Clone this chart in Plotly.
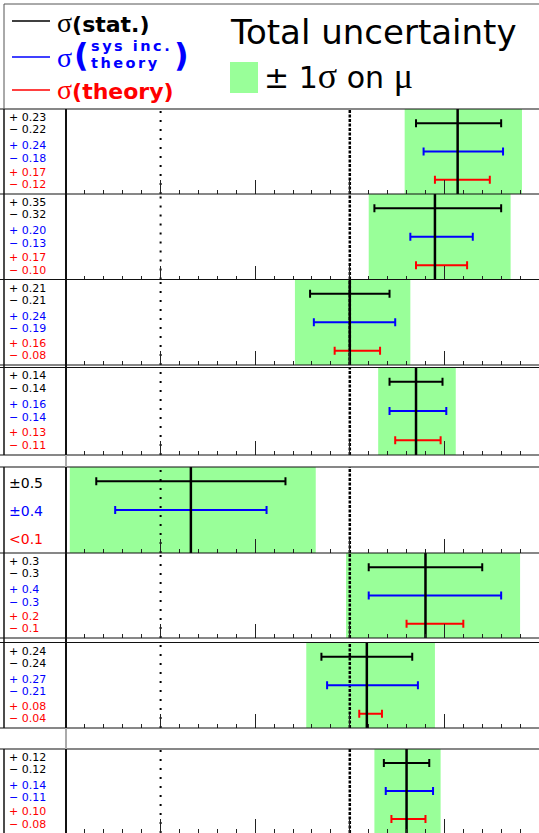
import plotly.graph_objects as go

# Signal strength per channel with its uncertainty breakdown
mu = [1.57, 1.45, 1.00, 1.35, 0.16, 1.40, 1.09, 1.30]
stat_up = [0.23, 0.35, 0.21, 0.14, 0.5, 0.3, 0.24, 0.12]
stat_dn = [0.22, 0.32, 0.21, 0.14, 0.5, 0.3, 0.24, 0.12]
sys_up = [0.24, 0.20, 0.24, 0.16, 0.4, 0.4, 0.27, 0.14]
sys_dn = [0.18, 0.13, 0.19, 0.14, 0.4, 0.3, 0.21, 0.11]
theo_up = [0.17, 0.17, 0.16, 0.13, None, 0.2, 0.08, 0.10]
theo_dn = [0.12, 0.10, 0.08, 0.11, None, 0.1, 0.04, 0.08]
theo_limit = [None, None, None, None, 0.1, None, None, None]
tot_up = [0.34, 0.40, 0.32, 0.21, 0.66, 0.50, 0.36, 0.18]
tot_dn = [0.28, 0.35, 0.29, 0.20, 0.64, 0.42, 0.32, 0.17]
label_decimals = [2, 2, 2, 2, 1, 1, 2, 2]

x_range = [-0.5, 2.0]
major_step = 0.5
minor_step = 0.1
reference_lines = [0.0, 1.0]

W, H = 539, 833
FONT = "DejaVu Sans, Liberation Sans, Arial, sans-serif"
SERIF = "Liberation Serif, DejaVu Serif, serif"
BLACK, BLUE, RED, GREEN = "#000000", "#0000ff", "#ff0000", "#99ff99"

# vertical extent of each panel in pixels (top, bottom)
panel_top = [109, 194, 279.5, 367, 467, 553, 642.5, 749]
panel_bot = [194, 279.5, 365, 455, 553, 638, 728, 833]
X0 = 66  # left edge of the plotting area


def py(v):
    return 1 - v / H


def px(v):
    return v / W


def greek(ch, size):
    return f"<span style='font-family:{SERIF};font-size:{size}px'>{ch}</span>"


fig = go.Figure()
layout = dict(
    width=W, height=H, margin=dict(l=0, r=0, t=0, b=0),
    paper_bgcolor="white", plot_bgcolor="rgba(0,0,0,0)",
    showlegend=False, hovermode=False,
    font=dict(family=FONT, color=BLACK),
)

annotations = []
shapes = []

row_y = [2.5, 1.5, 0.5]
label_y = [2.70, 2.28, 1.71, 1.27, 0.76, 0.32]
label_y_sym = [2.45, 1.48, 0.49]

for i in range(len(mu)):
    n = "" if i == 0 else str(i + 1)
    xa, ya = "x" + n, "y" + n
    layout["xaxis" + n] = dict(
        domain=[px(X0), 1], range=x_range, anchor=ya,
        showgrid=False, zeroline=False, showticklabels=False, showline=False,
        ticks="inside", tick0=0, dtick=major_step, ticklen=14, tickwidth=1,
        tickcolor="#222", fixedrange=True,
        minor=dict(ticks="inside", tick0=0, dtick=minor_step, ticklen=4,
                   tickwidth=1, tickcolor="#222"),
    )
    layout["yaxis" + n] = dict(
        domain=[py(panel_bot[i]), py(panel_top[i])], range=[0, 3],
        anchor=xa, visible=False, fixedrange=True,
    )

    # total uncertainty band
    fig.add_trace(go.Bar(
        x=[tot_up[i] + tot_dn[i]], base=[mu[i] - tot_dn[i]], y=[1.5], width=[3],
        orientation="h", marker=dict(color=GREEN, line=dict(width=0)),
        xaxis=xa, yaxis=ya,
    ))

    # reference lines at mu = 0 and mu = 1
    fig.add_trace(go.Scatter(
        x=[reference_lines[0]] * 2, y=[0, 3], mode="lines",
        line=dict(color=BLACK, width=2, dash="2px,7px"), xaxis=xa, yaxis=ya,
    ))
    fig.add_trace(go.Scatter(
        x=[reference_lines[1]] * 2, y=[0, 3], mode="lines",
        line=dict(color=BLACK, width=2.5, dash="3px,1.5px"), xaxis=xa, yaxis=ya,
    ))

    # error bars: statistical, systematic (incl. theory), theory
    bars = [(stat_up[i], stat_dn[i], BLACK),
            (sys_up[i], sys_dn[i], BLUE),
            (theo_up[i], theo_dn[i], RED)]
    for (up, dn, col), yy in zip(bars, row_y):
        if up is None:
            continue
        fig.add_trace(go.Scatter(
            x=[mu[i]], y=[yy], mode="markers",
            marker=dict(size=1, color=col, opacity=0),
            error_x=dict(type="data", symmetric=False, array=[up],
                         arrayminus=[dn], color=col, thickness=2, width=4),
            xaxis=xa, yaxis=ya,
        ))

    # best-fit value
    fig.add_trace(go.Scatter(
        x=[mu[i], mu[i]], y=[0, 3], mode="lines",
        line=dict(color=BLACK, width=2.5), xaxis=xa, yaxis=ya,
    ))

    # numeric breakdown in the left column
    d = label_decimals[i]
    if theo_up[i] is None:
        texts = [(f"\u00b1{stat_up[i]:.{d}f}", BLACK),
                 (f"\u00b1{sys_up[i]:.{d}f}", BLUE),
                 (f"&lt;{theo_limit[i]:.{d}f}", RED)]
        for (t, col), yy in zip(texts, label_y_sym):
            annotations.append(dict(
                x=px(8), y=yy, xref="paper", yref=ya, text=t, showarrow=False,
                xanchor="left", yanchor="middle", borderpad=0,
                font=dict(size=14, color=col, family=FONT)))
    else:
        texts = [(f"+ {stat_up[i]:.{d}f}", BLACK), (f"\u2212 {stat_dn[i]:.{d}f}", BLACK),
                 (f"+ {sys_up[i]:.{d}f}", BLUE), (f"\u2212 {sys_dn[i]:.{d}f}", BLUE),
                 (f"+ {theo_up[i]:.{d}f}", RED), (f"\u2212 {theo_dn[i]:.{d}f}", RED)]
        for (t, col), yy in zip(texts, label_y):
            annotations.append(dict(
                x=px(8), y=yy, xref="paper", yref=ya, text=t, showarrow=False,
                xanchor="left", yanchor="middle", borderpad=0,
                font=dict(size=11, color=col, family=FONT)))


def hline(y, x0=0, x1=W, color="#111", width=1.5):
    shapes.append(dict(type="line", xref="paper", yref="paper",
                       x0=px(x0), x1=px(x1), y0=py(y), y1=py(y),
                       line=dict(color=color, width=width)))


def vline(x, y0, y1, color="#111", width=1.5):
    shapes.append(dict(type="line", xref="paper", yref="paper",
                       x0=px(x), x1=px(x), y0=py(y0), y1=py(y1),
                       line=dict(color=color, width=width)))


# panel frames
for y in [109, 194, 279.5, 365, 367.5, 455, 467, 553, 638, 642.5, 728, 749]:
    hline(y, width=1.2)
for y0, y1 in [(109, 455), (467, 728), (749, 833)]:
    vline(4, y0, y1)
    vline(X0, y0, y1, width=2)
for y0, y1 in [(455, 467), (728, 749)]:
    vline(X0, y0, y1, color="#aaaaaa", width=2)

# header box
hline(4, x0=4, color="#555", width=1)
vline(4, 4, 109, color="#555", width=1)

# legend samples
for y, col in [(21, BLACK), (57, BLUE), (90, RED)]:
    hline(y, x0=12, x1=50, color=col, width=1.5)
shapes.append(dict(type="rect", xref="paper", yref="paper",
                   x0=px(230), x1=px(258), y0=py(93), y1=py(62),
                   fillcolor=GREEN, line=dict(width=0)))


def note(x, y, text, size, color=BLACK, anchor="left"):
    annotations.append(dict(x=px(x), y=py(y), xref="paper", yref="paper",
                            text=text, showarrow=False, xanchor=anchor,
                            yanchor="middle", borderpad=0,
                            font=dict(size=size, color=color, family=FONT)))


SPREAD = "<span style='letter-spacing:2.5px'>{}</span>"

note(56, 22, greek("\u03c3", 28) + "<b>(stat.)</b>", 22)
note(56, 57, greek("\u03c3", 28), 22, BLUE)
note(73, 55, "<b>(</b>", 32, BLUE)
note(90, 45.5, SPREAD.format("<b>sys inc.</b>"), 14.5, BLUE)
note(90, 62.5, SPREAD.format("<b>theory</b>"), 14.5, BLUE)
note(173, 55, "<b>)</b>", 32, BLUE)
note(56, 89, greek("\u03c3", 28) + "<b>(theory)</b>", 22, RED)
note(229, 32, "Total uncertainty", 34)
note(263, 76, "\u00b1 1" + greek("\u03c3", 36) + " on " + greek("\u03bc", 36), 30)

layout["annotations"] = annotations
layout["shapes"] = shapes
fig.update_layout(**layout)
fig.write_html("out.html")
